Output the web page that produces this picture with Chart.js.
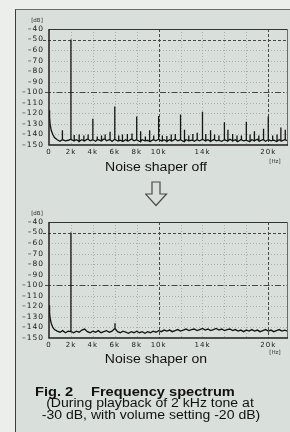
<!DOCTYPE html>
<html><head><meta charset="utf-8">
<script src="https://cdn.jsdelivr.net/npm/chart.js@4.4.1/dist/chart.umd.min.js"></script>
<style>
html,body{margin:0;padding:0;}
body{width:290px;height:432px;position:relative;overflow:hidden;background:#eceeec;font-family:'Liberation Sans',Arial,sans-serif;color:#111;}
#panel{position:absolute;left:15px;top:9px;width:275px;height:423px;background:#d9dfdb;border-left:1.5px solid #3c3c3c;border-top:1px solid #6a6a6a;box-sizing:border-box;}
canvas{position:absolute;left:0;}
#c1{top:0;} #c2{top:193px;}
.t{position:absolute;white-space:nowrap;}
.c{text-align:center;transform:scaleX(1.17);transform-origin:50% 50%;font-size:12px;line-height:14px;width:200px;}
.small{font-family:'DejaVu Sans',sans-serif;font-size:5.5px;color:#333;line-height:7px;text-align:center;width:20px;}
.ttl{font-weight:bold;font-size:12.5px;line-height:14px;transform:scaleX(1.17);transform-origin:0 50%;}
.sub{font-size:12px;line-height:12px;}
</style></head><body>
<div id="panel"></div>
<canvas id="c1" width="290" height="170" style="width:290px;height:170px"></canvas>
<canvas id="c2" width="290" height="170" style="width:290px;height:170px"></canvas>
<div class="t small" style="left:27px;top:16.5px;">[dB]</div>
<div class="t small" style="left:27px;top:209.5px;">[dB]</div>
<div class="t small" style="left:265px;top:157.5px;">[Hz]</div>
<div class="t small" style="left:265px;top:348.5px;">[Hz]</div>
<div class="t c" style="left:56px;top:160px;">Noise shaper off</div>
<svg style="position:absolute;left:145px;top:181px" width="23" height="26"><path d="M7,1 H15 V13 H21.5 L11,24.5 L0.5,13 H7 Z" fill="#d9dfdb" stroke="#4a4a4a" stroke-width="1.2"/></svg>
<div class="t c" style="left:56px;top:352px;">Noise shaper on</div>
<div class="t ttl" style="left:35px;top:385px;">Fig. 2</div>
<div class="t ttl" style="left:91px;top:385px;">Frequency spectrum</div>
<div class="t c sub" style="left:50px;top:397px;">(During playback of 2 kHz tone at</div>
<div class="t c sub" style="left:51px;top:409px;">-30 dB, with volume setting -20 dB)</div>
<script>
const floorKHz = [0, 0.05, 0.1, 0.2, 0.35, 0.5,
  0.75, 1, 1.25, 1.5, 1.75, 2, 2.25, 2.5, 2.75, 3, 3.25, 3.5, 3.75, 4, 4.25, 4.5, 4.75, 5, 5.25, 5.5, 5.75,
  6, 6.25, 6.5, 6.75, 7, 7.25, 7.5, 7.75, 8, 8.25, 8.5, 8.75, 9, 9.25, 9.5, 9.75, 10, 10.25, 10.5, 10.75,
  11, 11.25, 11.5, 11.75, 12, 12.25, 12.5, 12.75, 13, 13.25, 13.5, 13.75, 14, 14.25, 14.5, 14.75, 15, 15.25,
  15.5, 15.75, 16, 16.25, 16.5, 16.75, 17, 17.25, 17.5, 17.75, 18, 18.25, 18.5, 18.75, 19, 19.25, 19.5,
  19.75, 20, 20.25, 20.5, 20.75, 21, 21.25, 21.5, 21.75];
const offFloorDb = [-117, -124, -130, -136, -140, -143,
  -145, -146.5, -145, -146, -145.5, -144.5, -146, -145, -146.5, -145, -146, -144.5, -146, -145, -146.5, -145, -146, -144.5, -146, -145, -146.5,
  -144.5, -146, -145.5, -146.5, -145, -146, -144.5, -146, -145, -146.5, -145, -146, -145.5, -146.5, -145, -146, -144.5, -146, -145, -146.5,
  -145, -146, -144.5, -146, -145, -146.5, -145, -146, -145.5, -146.5, -145, -146, -144.5, -146, -145, -146.5, -145, -146,
  -145.5, -146.5, -145, -146, -144.5, -146, -145, -146.5, -145, -146, -145.5, -146.5, -145, -146, -144.5, -146, -145,
  -146.5, -145, -146, -145.5, -146.5, -145, -146, -145, -146];
const onFloorDb = [-119, -126, -131, -136, -140, -142,
  -143.5, -144.5, -143, -145, -143.5, -144, -145, -143.5, -144.5, -142.5, -141.5, -144, -145, -143.5, -144.5, -143, -145, -144, -143, -144.5, -143.5,
  -141, -144, -145, -143.5, -144.5, -145.5, -144, -145, -143.5, -145, -144, -145.5, -144, -145, -143.5, -144.5, -143, -144, -142.5, -143.5,
  -142.5, -144, -143, -142, -143.5, -142.5, -141.5, -143, -142, -141.5, -143, -142, -141, -142.5, -141.5, -143, -142, -141,
  -142.5, -141.5, -143, -142, -141.5, -143, -142, -143.5, -142.5, -144, -142.5, -143.5, -142, -143.5, -142.5, -144, -143,
  -142, -143.5, -142.5, -144, -143, -142, -143.5, -142.5, -143.5];
const offSpikeKHz = [1.21, 2.0, 2.3, 2.75, 3.18, 3.57, 4.0, 4.4, 4.79, 5.12,
  5.57, 6.0, 6.36, 6.7, 7.15, 7.57, 8.0, 8.36, 8.79, 9.18,
  9.55, 10.0, 10.34, 10.75, 11.15, 11.52, 12.0, 12.36, 12.75, 13.12,
  13.52, 14.0, 14.3, 14.73, 15.1, 15.5, 16.0, 16.32, 16.75, 17.15,
  17.55, 18.0, 18.34, 18.73, 19.14, 19.57, 20.0, 20.4, 20.8, 21.15, 21.55];
const offSpikeDb = [-136, -50, -140.5, -140, -141, -140, -125, -142, -141, -140,
  -137.5, -113.5, -141, -140, -139.5, -139, -123, -137, -142, -136,
  -141, -122.5, -141, -141.5, -140, -139.5, -121, -135.5, -141, -139.5,
  -138.3, -118.5, -139.5, -136, -140, -141, -128.5, -135.5, -139.5, -141,
  -141, -128, -140, -137, -141, -134.5, -123, -141, -140, -133.5, -135.5];
const onSpikeKHz = [2.0, 6.02];
const onSpikeDb = [-50, -136];
const xMaxKHz = 21.8;
const yTickValues = [-40, -50, -60, -70, -80, -90, -100, -110, -120, -130, -140, -150];
const xTickValues = [0, 2, 4, 6, 8, 10, 14, 20];
const xTickLabels = ['0', '2k', '4k', '6k', '8k', '10k', '14k', '20k'];
const faintGridY = [-60, -70, -80, -90, -110, -120, -130, -140];
const faintGridX = [2, 4, 6, 8, 12, 14, 16, 18];
const dashedGridY = [-50];
const dashDotGridY = [-100];
const dashedGridX = [10, 20];

function buildSeries(fq, fl, sq, sl) {
  const pts = fq.map((f, i) => ({x: f, y: fl[i]}));
  sq.forEach((f, i) => {
    let k = 0;
    fq.forEach((g, j) => { if (Math.abs(g - f) < Math.abs(fq[k] - f)) k = j; });
    const base = fl[k];
    pts.push({x: f, y: base}, {x: f, y: sl[i]}, {x: f, y: base});
  });
  return pts.map((p, i) => ({p, i})).sort((a, b) => (a.p.x - b.p.x) || (a.i - b.i)).map(o => o.p);
}

const gridPlugin = {
  id: 'specGrid',
  beforeDraw(chart) { chart.ctx.letterSpacing = '1px'; },
  beforeDatasetsDraw(chart) {
    const {ctx, chartArea: a, scales: {x, y}} = chart;
    ctx.save();
    const hl = (v, color, dash, w, ext) => {
      const py = Math.round(y.getPixelForValue(v)) + 0.5;
      ctx.beginPath(); ctx.setLineDash(dash); ctx.strokeStyle = color; ctx.lineWidth = w;
      ctx.moveTo(a.left - (ext || 0), py); ctx.lineTo(a.right, py); ctx.stroke();
    };
    const vl = (v, color, dash, w) => {
      const px = Math.round(x.getPixelForValue(v)) + 0.5;
      ctx.beginPath(); ctx.setLineDash(dash); ctx.strokeStyle = color; ctx.lineWidth = w;
      ctx.moveTo(px, a.top); ctx.lineTo(px, a.bottom); ctx.stroke();
    };
    faintGridY.forEach(v => hl(v, '#aab1ac', [1, 2], 1));
    faintGridX.forEach(v => vl(v, '#aab1ac', [1, 2], 1));
    dashedGridY.forEach(v => hl(v, '#474747', [3, 2], 1, 6));
    dashDotGridY.forEach(v => hl(v, '#474747', [6, 2, 1.5, 2], 1, 4));
    dashedGridX.forEach(v => vl(v, '#474747', [3, 2], 1));
    ctx.restore();
  },
  afterDatasetsDraw(chart) {
    const {ctx, chartArea: a} = chart;
    ctx.save();
    ctx.setLineDash([]);
    ctx.strokeStyle = '#333'; ctx.lineWidth = 1;
    ctx.beginPath(); ctx.moveTo(a.left, a.top + 0.5); ctx.lineTo(a.right, a.top + 0.5); ctx.stroke();
    ctx.strokeStyle = '#6a6a6a';
    ctx.beginPath(); ctx.moveTo(a.right - 0.5, a.top); ctx.lineTo(a.right - 0.5, a.bottom); ctx.stroke();
    ctx.strokeStyle = '#1e1e1e'; ctx.lineWidth = 1.5;
    ctx.beginPath(); ctx.moveTo(a.left, a.top); ctx.lineTo(a.left, a.bottom); ctx.lineTo(a.right, a.bottom); ctx.stroke();
    ctx.restore();
  }
};

function makeChart(id, data) {
  return new Chart(document.getElementById(id), {
    type: 'line',
    data: {datasets: [{data, borderColor: '#141414', borderWidth: 1.3, pointRadius: 0, tension: 0, fill: false}]},
    options: {
      responsive: false, animation: false, events: [],
      layout: {padding: {top: 29, left: 15, right: 2, bottom: 0}},
      plugins: {legend: {display: false}, tooltip: {enabled: false}},
      scales: {
        x: {type: 'linear', min: 0, max: xMaxKHz,
          grid: {display: false, drawTicks: false}, border: {display: false},
          afterBuildTicks: s => { s.ticks = xTickValues.map(v => ({value: v})); },
          afterFit: s => { s.height = 25; },
          ticks: {autoSkip: false, maxRotation: 0, padding: 3, color: '#1a1a1a',
            font: {family: 'DejaVu Sans', size: 7},
            callback: v => xTickLabels[xTickValues.indexOf(v)]}},
        y: {min: -150, max: -40,
          grid: {display: false, drawTicks: false}, border: {display: false},
          afterBuildTicks: s => { s.ticks = yTickValues.map(v => ({value: v})); },
          afterFit: s => { s.width = 34; },
          ticks: {autoSkip: false, padding: 5, color: '#1a1a1a',
            font: {family: 'DejaVu Sans', size: 7.5},
            callback: v => '\u2013' + Math.abs(v)}}
      }
    },
    plugins: [gridPlugin]
  });
}

makeChart('c1', buildSeries(floorKHz, offFloorDb, offSpikeKHz, offSpikeDb));
makeChart('c2', buildSeries(floorKHz, onFloorDb, onSpikeKHz, onSpikeDb));
</script>
</body></html>
